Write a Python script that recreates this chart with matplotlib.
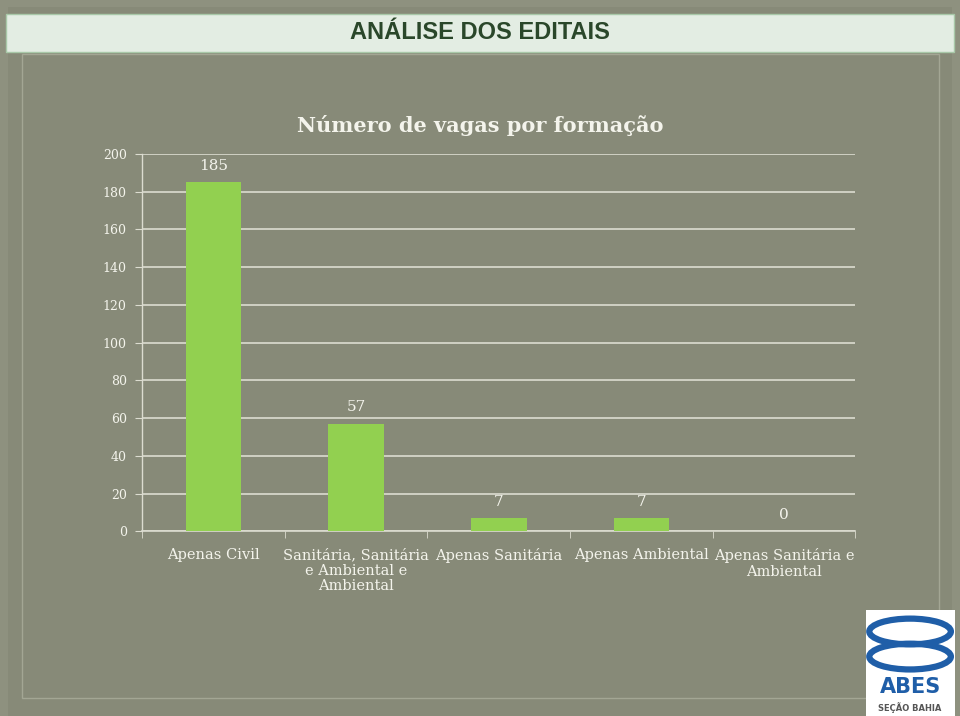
"""Bar chart: Número de vagas por formação (slide recreation)."""

import matplotlib.pyplot as plt
from matplotlib.patches import Rectangle, Ellipse

CATEGORIES = [
    "Apenas Civil",
    "Sanitária, Sanitária\ne Ambiental e\nAmbiental",
    "Apenas Sanitária",
    "Apenas Ambiental",
    "Apenas Sanitária e\nAmbiental",
]
VALUES = [185, 57, 7, 7, 0]
Y_TICKS = [0, 20, 40, 60, 80, 100, 120, 140, 160, 180, 200]

BG = "#878a78"
BAR = "#92d050"
TXT = "#f4f4ec"
GRID = "#dcdcd0"
SERIF = ["DejaVu Serif"]

fig = plt.figure(figsize=(9.6, 7.16), dpi=100)
fig.patch.set_facecolor("#8e917f")

# slide background / frame
fig.add_artist(Rectangle((0.008, 0.0), 0.984, 0.99, transform=fig.transFigure,
                         facecolor=BG, edgecolor="none", zorder=0))
fig.add_artist(Rectangle((0.023, 0.025), 0.955, 0.90, transform=fig.transFigure,
                         facecolor="none", edgecolor="#a3a694", lw=1.0, zorder=1))

# header band
fig.add_artist(Rectangle((0.006, 0.928), 0.988, 0.052, transform=fig.transFigure,
                         facecolor="#e3ede3", edgecolor="#a8c8a8", lw=1.0, zorder=2))
fig.text(0.5, 0.954, "ANÁLISE DOS EDITAIS", ha="center", va="center",
         fontsize=17, fontweight="bold", color="#2a472a",
         family=["Liberation Sans Narrow", "Liberation Sans", "DejaVu Sans"], zorder=3)

ax = fig.add_axes([0.148, 0.258, 0.743, 0.527])
ax.set_facecolor("none")
x = list(range(len(CATEGORIES)))
ax.bar(x, VALUES, width=0.39, color=BAR, zorder=3)
for xi, v in zip(x, VALUES):
    ax.text(xi, v + 5, str(v), ha="center", va="bottom", color=TXT,
            fontsize=11, family=SERIF)

ax.set_xlim(-0.5, len(CATEGORIES) - 0.5)
ax.set_ylim(0, 200)
ax.set_yticks(Y_TICKS)
ax.set_yticklabels([str(t) for t in Y_TICKS], family=SERIF, color=TXT, fontsize=9)
ax.set_xticks(x)
ax.set_xticklabels(CATEGORIES, family=SERIF, color=TXT, fontsize=10.5,
                   linespacing=1.15, va="top")
ax.tick_params(axis="x", length=0, pad=12)
ax.set_xticks([i + 0.5 for i in range(-1, len(CATEGORIES))], minor=True)
ax.tick_params(axis="x", which="minor", length=5, color=GRID, direction="out")
ax.tick_params(axis="y", length=5, color=GRID, pad=6)
ax.grid(True, axis="y", color=GRID, lw=1.2, zorder=0)
for side in ("top", "right"):
    ax.spines[side].set_visible(False)
ax.spines["left"].set_color(GRID)
ax.spines["bottom"].set_color(GRID)
ax.spines["left"].set_linewidth(1.0)
ax.spines["bottom"].set_linewidth(1.2)

fig.text(0.5, 0.825, "Número de vagas por formação", ha="center", va="center",
         fontsize=15, fontweight="bold", color=TXT, family=SERIF)

# ABES logo
fig.add_artist(Rectangle((0.902, 0.0), 0.093, 0.148, transform=fig.transFigure,
                         facecolor="white", edgecolor="none", zorder=4))
for yc in (0.118, 0.083):
    fig.add_artist(Ellipse((0.948, yc), 0.085, 0.036, transform=fig.transFigure,
                           facecolor="none", edgecolor="#1f5ea8", lw=4.5, zorder=5))
fig.text(0.948, 0.041, "ABES", ha="center", va="center", fontsize=15,
         fontweight="bold", color="#1f5ea8", family=["DejaVu Sans"], zorder=6)
fig.text(0.948, 0.012, "SEÇÃO BAHIA", ha="center", va="center", fontsize=6,
         fontweight="bold", color="#555555", family=["DejaVu Sans"], zorder=6)

fig.savefig("out.png", dpi=100, facecolor=fig.get_facecolor())
